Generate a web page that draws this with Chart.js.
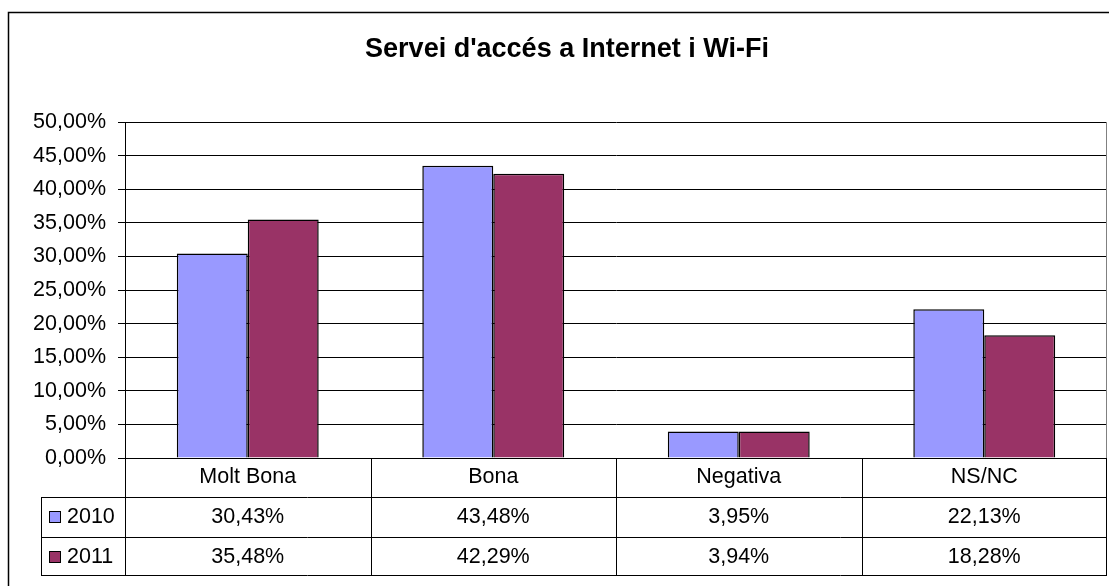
<!DOCTYPE html>
<html>
<head>
<meta charset="utf-8">
<script src="https://cdn.jsdelivr.net/npm/chart.js@4/dist/chart.umd.min.js"></script>
<style>
  html, body { margin: 0; padding: 0; background: #fff; }
  #wrap { width: 1109px; height: 586px; }
</style>
</head>
<body>
<div id="wrap"><canvas id="c" width="1109" height="586"></canvas></div>
<script>
const chartTitle = "Servei d'accés a Internet i Wi-Fi";
const categories = ['Molt Bona', 'Bona', 'Negativa', 'NS/NC'];
const seriesNames = ['2010', '2011'];
const values2010 = [30.43, 43.48, 3.95, 22.13];
const values2011 = [35.48, 42.29, 3.94, 18.28];
const seriesColors = ['#9999FF', '#993366'];

const FONT = '"Liberation Sans", Arial, sans-serif';
const TEXT_SIZE = 21.5;
const fmt = v => v.toFixed(2).replace('.', ',') + '%';

// Frame, title and the data table under the plot
const tablePlugin = {
  id: 'tablePlugin',
  afterDraw(chart) {
    const ctx = chart.ctx;
    const area = chart.chartArea;
    const xs = chart.scales.x;
    const n = categories.length;
    const colW = (area.right - area.left) / n;
    const rowTop = area.bottom;
    const rowH = [39, 40, 38];
    const keyLeft = 41;
    const r1 = rowTop + rowH[0];
    const r2 = r1 + rowH[1];
    const r3 = r2 + rowH[2];

    ctx.save();
    // outer chart border
    ctx.strokeStyle = '#000';
    ctx.lineWidth = 1.5;
    ctx.strokeRect(8.5, 12.5, 1300, 1300);

    // title
    ctx.fillStyle = '#000';
    ctx.font = 'bold 27px ' + FONT;
    ctx.textAlign = 'center';
    ctx.textBaseline = 'middle';
    ctx.fillText(chartTitle, 567, 50);

    // plot area right edge
    ctx.strokeStyle = '#808080';
    ctx.lineWidth = 1;
    ctx.beginPath();
    ctx.moveTo(Math.round(area.right) - 0.5, area.top);
    ctx.lineTo(Math.round(area.right) - 0.5, rowTop);
    ctx.stroke();

    // table grid
    ctx.strokeStyle = '#000';
    ctx.beginPath();
    for (let i = 0; i <= n; i++) {
      const x = Math.round(area.left + i * colW) + (i === n ? -0.5 : 0.5);
      ctx.moveTo(x, rowTop);
      ctx.lineTo(x, r3);
    }
    ctx.moveTo(keyLeft + 0.5, r1);
    ctx.lineTo(keyLeft + 0.5, r3);
    [r1, r2, r3].forEach(y => {
      ctx.moveTo(keyLeft, y + 0.5);
      ctx.lineTo(area.right, y + 0.5);
    });
    ctx.moveTo(area.left, rowTop + 0.5);
    ctx.lineTo(area.right, rowTop + 0.5);
    ctx.stroke();

    // category labels
    ctx.font = TEXT_SIZE + 'px ' + FONT;
    ctx.textAlign = 'center';
    ctx.textBaseline = 'middle';
    categories.forEach((c, i) => {
      ctx.fillText(c, xs.getPixelForValue(i), rowTop + rowH[0] / 2);
    });

    // series rows
    const rows = [values2010, values2011];
    const centers = [r1 + rowH[1] / 2, r2 + rowH[2] / 2 + 1];
    rows.forEach((vals, s) => {
      const cy = centers[s];
      ctx.fillStyle = seriesColors[s];
      ctx.fillRect(49, cy - 6, 12, 12);
      ctx.strokeStyle = '#000';
      ctx.strokeRect(49.5, cy - 5.5, 11, 11);
      ctx.fillStyle = '#000';
      ctx.textAlign = 'left';
      ctx.fillText(seriesNames[s], 67, cy);
      ctx.textAlign = 'center';
      vals.forEach((v, i) => ctx.fillText(fmt(v), xs.getPixelForValue(i), cy));
    });
    ctx.restore();
  }
};

new Chart(document.getElementById('c'), {
  type: 'bar',
  data: {
    labels: categories,
    datasets: [
      { label: seriesNames[0], data: values2010, backgroundColor: seriesColors[0],
        borderColor: '#000', borderWidth: 1.5, categoryPercentage: 0.578, barPercentage: 1 },
      { label: seriesNames[1], data: values2011, backgroundColor: seriesColors[1],
        borderColor: '#000', borderWidth: 1.5, categoryPercentage: 0.578, barPercentage: 1 }
    ]
  },
  options: {
    responsive: false,
    devicePixelRatio: 1,
    animation: false,
    layout: { padding: { left: 0, top: 122, right: 2, bottom: 128 } },
    plugins: { legend: { display: false }, title: { display: false }, tooltip: { enabled: false } },
    scales: {
      x: { display: false },
      y: {
        min: 0, max: 50,
        afterFit(s) { s.width = 125; },
        ticks: {
          stepSize: 5,
          padding: 12,
          color: '#000',
          font: { family: FONT, size: TEXT_SIZE },
          callback: v => fmt(v)
        },
        grid: { color: '#000', lineWidth: 1, tickLength: 7 },
        border: { color: '#000', width: 1 }
      }
    }
  },
  plugins: [tablePlugin]
});
</script>
</body>
</html>
